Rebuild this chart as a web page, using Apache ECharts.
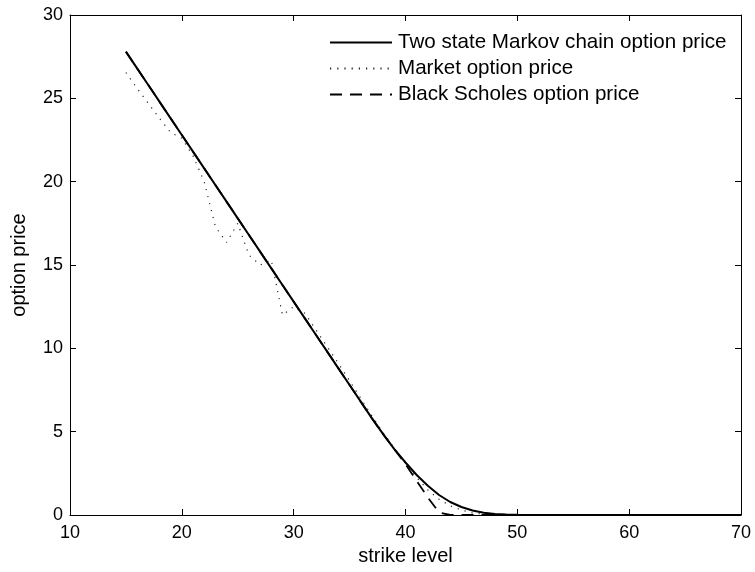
<!DOCTYPE html>
<html>
<head>
<meta charset="utf-8">
<script src="https://cdn.jsdelivr.net/npm/echarts@6/dist/echarts.min.js"></script>
<style>html,body{margin:0;padding:0;background:#fff}#c{width:755px;height:572px}</style>
</head>
<body>
<div id="c"></div>
<script>
var strikes = [15,16,17,18,19,20,21,22,23,24,25,26,27,28,29,30,31,32,33,34,35,36,37,38,39,40,41,42,43,44,45,46,47,48,49,50,51,52,53,54,55,56,57,58,59,60,61,62,63,64,65,66,67,68,69,70];
var markovPrice = [27.8,26.8,25.8,24.8,23.8,22.8,21.8,20.8,19.8,18.8,17.8,16.8,15.8,14.8,13.8,12.8,11.8,10.8,9.8,8.8,7.8,6.8,5.8,4.85,3.95,3.15,2.4,1.75,1.2,0.78,0.48,0.27,0.13,0.06,0.025,0.01,0.005,0,0,0,0,0,0,0,0,0,0,0,0,0,0,0,0,0,0,0];
var marketPrice = [26.55,25.6,24.7,23.8,22.95,22.6,21.55,20.0,17.3,16.35,17.5,15.6,15.0,15.3,12.0,12.5,12.1,11.1,10.1,9.1,8.05,7.0,5.95,4.95,4.0,3.1,2.25,1.5,0.95,0.55,0.3,0.12,0.05,0.02,0.01,0,0,0,0,0,0,0,0,0,0,0,0,0,0,0,0,0,0,0,0,0];
var bsPrice = [27.8,26.8,25.8,24.8,23.8,22.8,21.8,20.8,19.8,18.8,17.8,16.8,15.8,14.8,13.8,12.8,11.8,10.8,9.8,8.8,7.8,6.8,5.8,4.85,3.95,3.05,2.05,1.05,0.15,0,0,0,0,0,0,0,0,0,0,0,0,0,0,0,0,0,0,0,0,0,0,0,0,0,0,0];
var xTicks = [10,20,30,40,50,60,70];
var yTicks = [0,5,10,15,20,25,30];
var seriesNames = ['Two state Markov chain option price','Market option price','Black Scholes option price'];

function pairs(xs, ys){ return xs.map(function(x,i){ return [x, ys[i]]; }); }

var font = 'Liberation Sans, Arial, sans-serif';
var chart = echarts.init(document.getElementById('c'), null, {renderer:'canvas'});
function xa(pos, showLabel, name){
  return {type:'value', position:pos, min:xTicks[0], max:xTicks[xTicks.length-1], interval:10,
    name:name, nameLocation:'middle', nameGap:25, nameTextStyle:{color:'#000', fontSize:20, fontFamily:font},
    axisLine:{show:true, onZero:false, lineStyle:{color:'#000', width:1}},
    axisTick:{show:true, inside:true, length:6, lineStyle:{color:'#000'}},
    axisLabel:{show:showLabel, color:'#000', fontSize:18, fontFamily:font, margin:9},
    splitLine:{show:false}};
}
function ya(pos, showLabel, name){
  return {type:'value', position:pos, min:yTicks[0], max:yTicks[yTicks.length-1], interval:5,
    name:name, nameLocation:'middle', nameGap:41, nameTextStyle:{color:'#000', fontSize:20, fontFamily:font},
    axisLine:{show:true, onZero:false, lineStyle:{color:'#000', width:1}},
    axisTick:{show:true, inside:true, length:6, lineStyle:{color:'#000'}},
    axisLabel:{show:showLabel, color:'#000', fontSize:18, fontFamily:font, margin:7},
    splitLine:{show:false}};
}
chart.setOption({
  animation:false,
  backgroundColor:'#fff',
  grid:{left:70, right:14, top:15, bottom:57, containLabel:false},
  xAxis:[xa('bottom', true, 'strike level'), xa('top', false, '')],
  yAxis:[ya('left', true, 'option price'), ya('right', false, '')],
  legend:{
    orient:'vertical', left:324, top:27, itemWidth:62, itemHeight:14, itemGap:5,
    itemStyle:{color:'rgba(0,0,0,0)', borderColor:'rgba(0,0,0,0)', borderWidth:0},
    textStyle:{color:'#000', fontSize:20.6, lineHeight:20, fontFamily:font, padding:[0,0,0,1]},
    data:seriesNames.map(function(n){ return {name:n}; })
  },
  series:[
    {name:seriesNames[0], type:'line', data:pairs(strikes, markovPrice), symbol:'none',
      lineStyle:{color:'#000', width:2, type:'solid'}, itemStyle:{color:'#000'}, z:3},
    {name:seriesNames[1], type:'line', data:pairs(strikes, marketPrice), symbol:'none',
      lineStyle:{color:'#222', width:1.2, type:[1.2,6]}, itemStyle:{color:'#000'}, z:2},
    {name:seriesNames[2], type:'line', data:pairs(strikes, bsPrice), symbol:'none',
      lineStyle:{color:'#000', width:1.8, type:[12,8]}, itemStyle:{color:'#000'}, z:2}
  ]
});
</script>
</body>
</html>
